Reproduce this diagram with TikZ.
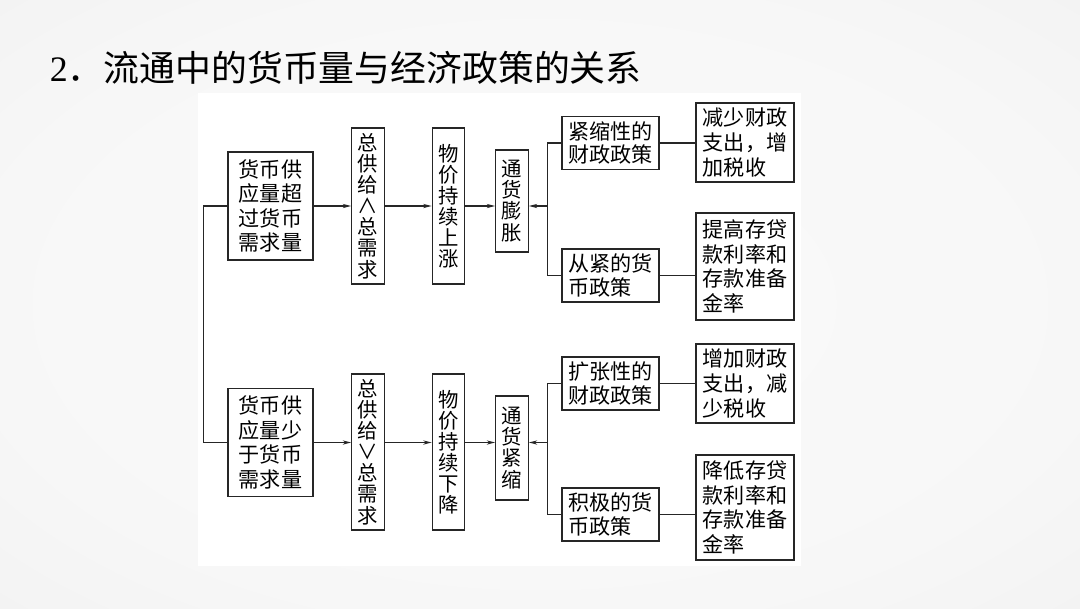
\documentclass[tikz,border=0pt]{standalone}
\usepackage{fontspec}
\newfontfamily\cjk{Noto Sans CJK SC}
\newfontfamily\numfont{Liberation Serif}
\usetikzlibrary{arrows.meta,positioning}
\pgfdeclareradialshading{slidebg}{\pgfpointorigin}{color(0bp)=(gray!4); color(25bp)=(gray!6); color(72bp)=(gray!21)}

\begin{document}
\begin{tikzpicture}[x=0.025cm, y=-0.025cm,
    box/.style={draw=black!85, line width=0.9pt, inner sep=0pt, align=left, font=\cjk\fontsize{15}{17.5}\selectfont},
    cause/.style={box, minimum width=2.125cm, minimum height=2.7cm},
    vbox/.style={box, align=center, font=\cjk\fontsize{14.5}{15}\selectfont, minimum width=0.81cm},
    policy/.style={box, font=\cjk\fontsize{15}{16.5}\selectfont, minimum width=2.425cm, minimum height=1.32cm},
    measure/.style={box, minimum width=2.45cm},
    link/.style={draw=black!85, line width=0.8pt},
    arr/.style={link, -{Stealth[length=6pt, width=3pt]}}]
    % slide background and white panel
    \shade[shading=slidebg] (0,0) rectangle (1080,608);
    \useasboundingbox (0,0) rectangle (1080,608);
    \fill[white] (198,93) rectangle (801,566);

    \node[anchor=west, font=\cjk\fontsize{25.5}{30}\selectfont] (title) at (45,68) {{\numfont 2}．流通中的货币量与经济政策的关系};

    % inflation branch
    \node[cause] (excess) at (270.5,206) {货币供\\应量超\\过货币\\需求量};
    \node[vbox, minimum height=3.9cm] (supgt) at (368,206) {总\\供\\给\\∧\\总\\需\\求};
    \node[vbox, minimum height=3.9cm] (pricesup) at (448.5,206) {物\\价\\持\\续\\上\\涨};
    \node[vbox, minimum height=2.55cm] (inflation) at (512,201) {通\\货\\膨\\胀};
    \node[policy] (tightfis) at (610.5,143) {紧缩性的\\财政政策};
    \node[measure, minimum height=1.975cm] (fisup) at (745,142.5) {减少财政\\支出，增\\加税收};
    \node[policy] (tightmon) at (610.5,275.5) {从紧的货\\币政策};
    \node[measure, minimum height=2.675cm] (monup) at (745,266.5) {提高存贷\\款利率和\\存款准备\\金率};

    % deflation branch
    \node[cause] (short) at (270.5,442.5) {货币供\\应量少\\于货币\\需求量};
    \node[vbox, minimum height=3.9cm] (suplt) at (368,452) {总\\供\\给\\∨\\总\\需\\求};
    \node[vbox, minimum height=3.9cm] (pricesdown) at (448.5,452) {物\\价\\持\\续\\下\\降};
    \node[vbox, minimum height=2.6cm] (deflation) at (512,448) {通\\货\\紧\\缩};
    \node[policy] (expfis) at (610.5,383.5) {扩张性的\\财政政策};
    \node[measure, minimum height=1.975cm] (fisdown) at (745,383.5) {增加财政\\支出，减\\少税收};
    \node[policy] (loosemon) at (610.5,514.5) {积极的货\\币政策};
    \node[measure, minimum height=2.625cm] (mondown) at (745,507.5) {降低存贷\\款利率和\\存款准备\\金率};

    \draw[link] (excess.west) -- ++(-24,0) |- (short.west);

    \draw[arr] (excess) -- (supgt);
    \draw[arr] (supgt) -- (pricesup);
    \draw[arr] (pricesup.east) -- (pricesup.east -| inflation.west);
    \draw[link] (tightfis.west) -- ++(-14,0) coordinate (ubr) |- (tightmon.west);
    \draw[arr] (ubr |- pricesup.east) -- (pricesup.east -| inflation.east);
    \draw[link] (tightfis.east) -- (tightfis.east -| fisup.west);
    \draw[link] (tightmon.east) -- (tightmon.east -| monup.west);

    \draw[arr] (short.east) -- (short.east -| suplt.west);
    \draw[arr] (short.east -| suplt.east) -- (short.east -| pricesdown.west);
    \draw[arr] (short.east -| pricesdown.east) -- (short.east -| deflation.west);
    \draw[link] (expfis.west) -- ++(-14,0) coordinate (lbr) |- (loosemon.west);
    \draw[arr] (lbr |- short.east) -- (short.east -| deflation.east);
    \draw[link] (expfis.east) -- (expfis.east -| fisdown.west);
    \draw[link] (loosemon.east) -- (loosemon.east -| mondown.west);
\end{tikzpicture}
\end{document}
